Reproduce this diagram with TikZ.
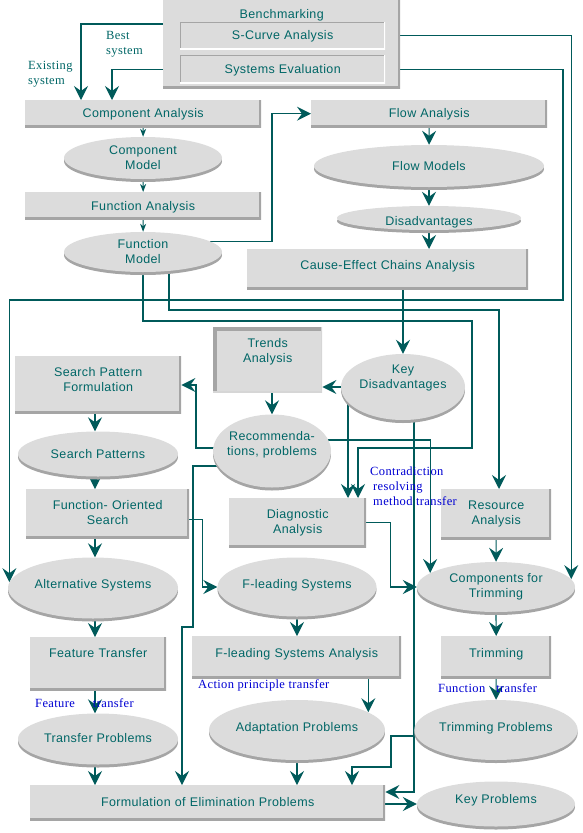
\documentclass[tikz,border=0pt]{standalone}
\usepackage{fontspec}
\setmainfont{Liberation Sans}[LetterSpace=3]
\newfontfamily\notefont{Liberation Serif}[LetterSpace=3]
\usetikzlibrary{shapes.geometric,arrows.meta,shadows,backgrounds}
\definecolor{boxgray}{RGB}{220,220,220}
\definecolor{edgegray}{RGB}{165,165,165}
\definecolor{txtcol}{RGB}{0,102,102}
\definecolor{linecol}{RGB}{0,90,90}
\definecolor{notecol}{RGB}{0,0,210}
\begin{document}
\begin{tikzpicture}[x=1pt, y=-1pt,
font=\fontsize{12.5}{15}\selectfont, text=txtcol,
panel/.style = {rectangle, fill=boxgray, anchor=north west, inner sep=0pt, align=center,
  path picture={\draw[edgegray, line width=5pt] (path picture bounding box.north east) -- (path picture bounding box.south east) -- (path picture bounding box.south west);}},
sunkpanel/.style = {rectangle, fill=boxgray, anchor=north west, inner sep=0pt, align=center,
  path picture={\draw[edgegray, line width=7pt] (path picture bounding box.south west) -- (path picture bounding box.north west) -- (path picture bounding box.north east);
  \draw[edgegray!45, line width=3pt] (path picture bounding box.north east) -- (path picture bounding box.south east) -- (path picture bounding box.south west);}},
inpanel/.style = {rectangle, fill=boxgray, anchor=north west, inner sep=0pt, align=center,
  path picture={\draw[edgegray, line width=2pt] (path picture bounding box.south west) -- (path picture bounding box.north west) -- (path picture bounding box.north east);
  \draw[white, line width=2pt] (path picture bounding box.north east) -- (path picture bounding box.south east) -- (path picture bounding box.south west);}},
oval/.style = {ellipse, fill=boxgray, inner sep=1pt, align=center,
  general shadow={fill=edgegray, shadow yshift=-3pt}},
lift/.style = {text height=9pt, text depth=#1},
arr/.style = {draw=linecol, line width=1.2pt, -{Stealth[length=14pt, width=14pt, inset=5pt]}},
sarr/.style = {draw=linecol, line width=1.2pt, -{Stealth[length=8pt, width=6pt, inset=2.5pt]}},
note/.style = {font=\notefont\fontsize{12.5}{15}\selectfont, inner sep=0pt, align=left},
bnote/.style = {note, text=notecol}]
\useasboundingbox (0,0) rectangle (583,833);

\node[panel, text width=237pt, text height=18pt, text depth=70pt] (bench) at (163,0) {Benchmarking};
\node[inpanel, text width=205pt, text height=17pt, text depth=10pt] (scurve) at (180,22) {S-Curve Analysis};
\node[inpanel, text width=205pt, text height=18pt, text depth=10pt] (syseval) at (180,55) {Systems Evaluation};
\node[panel, text width=236pt, text height=17pt, text depth=10pt] (compana) at (25,100) {Component Analysis};
\node[oval, minimum width=158pt, minimum height=42pt] (compmodel) at (143,158) {Component\\Model};
\node[panel, text width=236pt, text height=18pt, text depth=9pt] (funcana) at (25,192) {Function Analysis};
\node[oval, minimum width=158pt, minimum height=40pt] (funcmodel) at (143,252) {Function\\Model};
\node[panel, text width=236pt, text height=17pt, text depth=10pt] (flowana) at (311,100) {Flow Analysis};
\node[oval, lift=0pt, minimum width=230pt, minimum height=42pt] (flowmodels) at (429,166) {Flow Models};
\node[oval, text height=15pt, text depth=0pt, minimum width=184pt, minimum height=24pt] (disadv) at (429,218) {Disadvantages};
\node[panel, text width=281pt, text height=20pt, text depth=20pt] (cause) at (247,249) {Cause-Effect Chains Analysis};
\node[sunkpanel, text width=109pt, text height=20pt, text depth=45pt] (trends) at (213,327) {Trends\\Analysis};
\node[oval, text width=90pt, inner xsep=-2pt, inner ysep=0pt, text height=9pt, text depth=36pt,
  minimum width=124pt, minimum height=66pt] (keydis) at (403,387) {Key\\Disadvantages};
\node[panel, text width=166pt, text height=20pt, text depth=37pt] (spf) at (15,356) {Search Pattern\\Formulation};
\node[oval, text width=92pt, inner xsep=-5pt, inner ysep=0pt, text height=9pt, text depth=30pt,
  minimum width=118pt, minimum height=73pt] (recom) at (272,451) {Recommenda-\\tions, problems};
\node[oval, lift=0pt, minimum width=160pt, minimum height=45pt] (spatterns) at (98,454) {Search Patterns};
\node[panel, text width=163pt, text height=20pt, text depth=29pt] (fos) at (26,489) {Function- Oriented\\Search};
\node[panel, text width=137pt, text height=20pt, text depth=29pt] (diag) at (229,498) {Diagnostic\\Analysis};
\node[panel, text width=110pt, text height=20pt, text depth=30pt] (resource) at (441,489) {Resource\\Analysis};
\node[oval, lift=8pt, minimum width=170pt, minimum height=61pt] (altsys) at (93,588) {Alternative Systems};
\node[oval, lift=6pt, minimum width=159pt, minimum height=59pt] (flsys) at (297,587) {F-leading Systems};
\node[oval, minimum width=158pt, minimum height=50pt] (compstrim) at (496,587) {Components for\\Trimming};
\node[panel, text width=136pt, text height=20pt, text depth=33pt] (feature) at (30,637) {Feature Transfer};
\node[panel, text width=209pt, text height=21pt, text depth=21pt] (flsa) at (192,636) {F-leading Systems Analysis};
\node[panel, text width=110pt, text height=21pt, text depth=21pt] (trimming) at (441,636) {Trimming};
\node[oval, lift=2pt, minimum width=160pt, minimum height=51pt] (transprob) at (98,739) {Transfer Problems};
\node[oval, lift=6pt, minimum width=158pt, minimum height=60pt] (adaptprob) at (297,730) {Adaptation Problems};
\node[oval, lift=6pt, minimum width=158pt, minimum height=60pt] (trimprob) at (496,730) {Trimming Problems};
\node[panel, text width=355pt, text height=21pt, text depth=14pt] (formul) at (30,785) {Formulation of Elimination Problems};
\node[oval, lift=10pt, minimum width=158pt, minimum height=45pt] (keyprob) at (496,804) {Key Problems};

\node[note, anchor=north west] (existlbl) at (28,61) {Existing\\system};
\node[note, anchor=north west] (bestlbl) at (106,31) {Best\\system};
\node[bnote, anchor=north west] (contralbl) at (370,467) {Contradiction\\\hspace{3pt}resolving\\\hspace{3pt}method transfer};
\node[bnote, anchor=base west] (actionlbl) at (198,688) {Action principle transfer};
\node[bnote, anchor=base west] (featurelbl) at (35,707) {Feature\hspace{18pt}transfer};
\node[bnote, anchor=base west] (functionlbl) at (438,692) {Function\hspace{11pt}transfer};

\begin{scope}[on background layer]
\draw[arr] (bench.west |- 0,24) -| (compana.north -| 81,0);
\draw[arr] (bench.west |- syseval.center) -| (compana.north -| 112,0);
\draw[arr] (bench.east |- scurve.center) -| (compstrim.6);
\draw[arr] (bench.east |- syseval.center) -| (563,300) -| (altsys.176);
\draw[sarr] (compana) -- (compmodel);
\draw[sarr] (compmodel) -- (funcana);
\draw[sarr] (funcana) -- (funcmodel);
\draw[arr] (funcmodel.9) -| ([xshift=-39pt]flowana.west) -- (flowana.west);
\draw[arr] (funcmodel.center -| 169,0) |- (499,310) -- (resource.north -| 499,0);
\draw[arr] (funcmodel.center) |- (472,321) |- (358,448) -- (diag.north -| 358,0);
\draw[arr] (flowana) -- (flowmodels);
\draw[arr] (flowmodels) -- (disadv);
\draw[arr] (disadv) -- (disadv.south |- cause.north);
\draw[arr] (keydis.north |- cause.south) -- (keydis.north);
\draw[arr] (keydis.west) -- (trends.east |- keydis.west);
\draw[arr] (keydis.center -| 348,0) -- (diag.north -| 348,0);
\draw[arr] (keydis.center -| 414,0) |- (formul.east |- 0,792);
\draw[arr] (recom.north |- trends.south) -- (recom.north);
\draw[arr] (recom.center |- 0,448) -| (196,385) -- (spf.east |- 0,385);
\draw[arr] (recom.center |- 0,466) -| (193,627) -| (formul.north -| 182,0);
\draw[arr] (recom.center |- 0,440) -| (compstrim.168);
\draw[arr] (diag.east) -| ([xshift=-26pt]compstrim.west) -- (compstrim.west);
\draw[arr] ([yshift=-6pt]fos.east) -| ([xshift=-15pt]flsys.west) -- (flsys.west);
\foreach \src/\dst in {spf/spatterns, spatterns/fos, fos/altsys, altsys/feature, feature/transprob, transprob/formul}
  \draw[arr] (\src.south -| 95,0) -- (\dst.north -| 95,0);
\draw[arr] (flsys.south) -- (flsys.south |- flsa.north);
\draw[arr] (flsa.south -| adaptprob.14) -- (adaptprob.14);
\draw[arr] (adaptprob.south) -- (adaptprob.south |- formul.north);
\foreach \src/\dst in {resource/compstrim, compstrim/trimming, trimming/trimprob}
  \draw[arr] (\src) -- (\dst);
\draw[arr] (trimprob.center |- 0,736) -| (391,767) -| (formul.north -| 352,0);
\draw[arr] (formul.east |- keyprob.west) -- (keyprob.west);
\end{scope}
\end{tikzpicture}
\end{document}
